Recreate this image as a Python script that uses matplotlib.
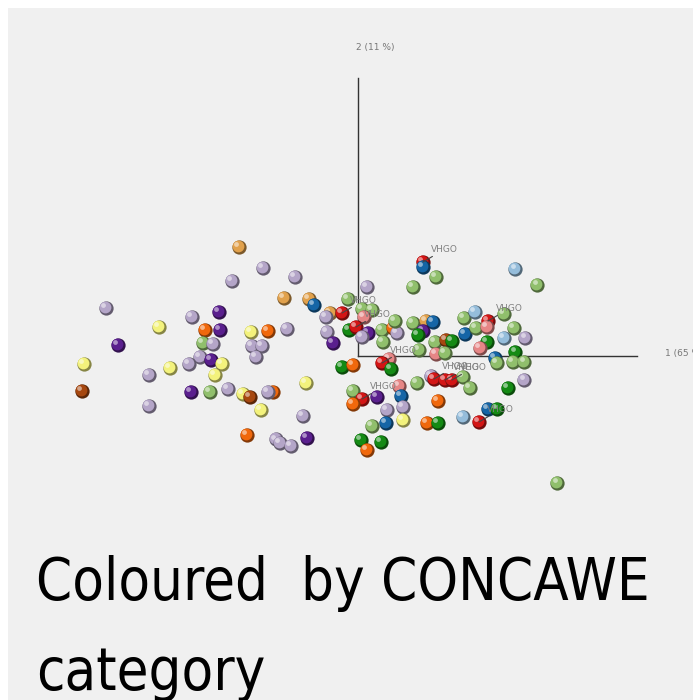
import matplotlib
matplotlib.use('Agg')
import matplotlib.pyplot as plt
from matplotlib import font_manager as fm
from matplotlib.transforms import offset_copy
from matplotlib.colors import to_rgb
import numpy as np

# PCA scores (component 1 = 65 %, component 2 = 11 %)
pc1 = [-11.9, -9.5, -12.6, -6.3, -7.4, -4.9, -4.4, -2.8, -25.2, -13.9,
       -16.6, -19.9, -15.3, -13.8, -10.7, -9.0, -7.1, -3.2, -3.1, -2.5,
       -24.0, -15.5, -14.5, -10.6, -9.6, -10.2, -15.8, -14.7, -13.6, -16.9,
       -27.4, -18.8, -14.3, -20.9, -5.2, -27.6, -16.7, -14.8, -13.0, -11.5,
       -10.8, -8.5, -9.0, -9.7, -20.9, -5.5, -11.1, -8.2, -7.8, -6.7,
       -5.1, -1.6, -1.0, 0.9, 0.4, 1.4, 0.6, -0.9, -0.2, 1.0,
       0.4, 2.4, 3.5, 3.9, 3.7, 2.5, 5.5, 5.5, 6.5, 6.5,
       7.8, 15.7, 17.9, 6.8, 7.5, 6.5, 6.0, 6.1, 7.7, 8.8,
       9.4, 7.8, 8.7, 10.6, 11.7, 10.7, 11.8, 13.0, 12.9, 14.6,
       15.6, 14.6, 16.7, 12.9, 12.2, 15.7, 13.7, 13.9, 15.5, 16.6,
       -1.6, -0.5, 3.1, 2.4, 3.3, 7.3, 7.6, 8.7, 9.4, 10.5,
       11.2, 5.9, 15.0, 16.6, -0.5, 0.4, -0.5, 1.9, 4.1, 4.3,
       2.9, 4.5, 4.5, 2.8, 1.4, 6.9, 8.0, 8.0, 10.5, 13.0,
       13.9, 12.1, 0.3, 2.3, 0.9, 19.9]
pc2 = [10.9, 8.8, 7.5, 7.9, 5.8, 5.7, 5.1, 4.3, 4.8, 4.4,
       3.9, 2.9, 2.6, 2.6, 2.4, 2.5, 2.7, 3.9, 2.4, 1.3,
       1.1, 1.3, 1.2, 1.0, 1.0, -0.1, -0.1, -0.4, -0.8, -0.8,
       -0.8, -1.2, -1.9, -1.9, -2.7, -3.5, -3.6, -3.6, -3.3, -3.8,
       -4.1, -3.6, -3.6, -5.4, -5.0, -6.0, -7.9, -8.3, -8.7, -9.0,
       -8.2, 4.3, 5.7, 6.9, 4.7, 4.6, 3.9, 2.6, 2.9, 2.3,
       1.9, 2.6, 2.8, 2.3, 3.5, 1.4, 3.3, 6.9, 9.4, 8.9,
       7.9, 8.7, 7.1, 3.5, 3.4, 2.5, 2.1, 0.6, 1.4, 1.6,
       1.5, 0.2, 0.3, 3.8, 4.4, 2.2, 2.8, 3.5, 2.9, 4.2,
       2.8, 1.8, 1.8, 1.4, 0.8, 0.4, -0.2, -0.7, -0.6, -0.6,
       -1.1, -0.9, -0.3, -0.7, -1.3, -2.0, -2.3, -2.4, -2.4, -2.1,
       -3.2, -2.7, -3.2, -2.4, -3.5, -4.3, -4.8, -4.1, -3.0, -4.0,
       -5.4, -5.1, -6.4, -6.7, -7.0, -6.7, -6.7, -4.5, -6.1, -5.3,
       -5.3, -6.6, -8.4, -8.6, -9.4, -12.7]
category = ['T', 'L', 'L', 'L', 'T', 'T', 'U', 'T', 'L', 'P',
            'L', 'Y', 'O', 'P', 'Y', 'O', 'L', 'L', 'L', 'P',
            'P', 'G', 'L', 'L', 'L', 'L', 'L', 'P', 'Y', 'L',
            'Y', 'Y', 'Y', 'L', 'Y', 'B', 'P', 'G', 'L', 'Y',
            'B', 'O', 'L', 'Y', 'L', 'L', 'O', 'L', 'L', 'L',
            'P', 'R', 'G', 'L', 'G', 'G', 'K', 'D', 'R', 'P',
            'L', 'G', 'O', 'L', 'G', 'G', 'G', 'G', 'R', 'U',
            'G', 'S', 'G', 'T', 'U', 'P', 'D', 'G', 'G', 'B',
            'D', 'K', 'G', 'G', 'S', 'U', 'G', 'R', 'K', 'G',
            'G', 'S', 'L', 'D', 'K', 'D', 'U', 'G', 'G', 'G',
            'D', 'O', 'K', 'R', 'D', 'L', 'R', 'R', 'R', 'G',
            'G', 'G', 'D', 'L', 'G', 'R', 'O', 'P', 'K', 'U',
            'L', 'L', 'Y', 'U', 'G', 'O', 'D', 'O', 'S', 'U',
            'D', 'R', 'D', 'D', 'O', 'G']
# samples carrying a name tag
tagged = [51, 58, 68, 87, 103, 106, 107, 108, 115, 131]
tag_text = 'VHGO'
title_lines = ['Coloured  by CONCAWE', 'category']

palette = {'L': '#b4a5c8', 'P': '#5a1f8e', 'Y': '#f3f27c', 'O': '#f0680c',
           'T': '#e1a14c', 'B': '#a6470f', 'G': '#90bf6c', 'D': '#148a14',
           'R': '#d31515', 'K': '#e68686', 'U': '#1565a6', 'S': '#95bddb'}


def wnum(w):
    if isinstance(w, (int, float)):
        return w
    return {'light': 300, 'normal': 400, 'regular': 400, 'book': 400,
            'medium': 500, 'bold': 700}.get(str(w).lower(), 400)


# pick a narrow, regular-weight face for the big caption if one is installed
title_font = dict(family='Lato')
narrow = [f for f in fm.fontManager.ttflist
          if ('Narrow' in f.name or 'Condensed' in f.name or f.stretch in ('condensed', 'semi-condensed'))
          and f.style == 'normal']
for want in (400, 300):
    hit = [f for f in narrow if wnum(f.weight) == want]
    if hit:
        f = hit[0]
        title_font = dict(family=f.name, weight=want, stretch=f.stretch)
        break

fig = plt.figure(figsize=(6.93, 7.0), dpi=100)
fig.patch.set_facecolor('white')
ax = fig.add_axes([8/693, 0, 685/693, 692/700])
ax.set_facecolor('#f0f0f0')
ax.set_xlim(-35, 33.5)
ax.set_ylim(-34.4, 34.8)
for s in ax.spines.values():
    s.set_visible(False)
ax.set_xticks([])
ax.set_yticks([])

# axes of the score plot
ax.plot([0, 27.9], [0, 0], color='#333333', lw=1, zorder=1)
ax.plot([0, 0], [0, 27.8], color='#333333', lw=1, zorder=1)
ax.text(1.7, 30.8, '2 (11 %)', fontsize=6.5, color='#777777', ha='center', va='center')
ax.text(30.7, 0.2, '1 (65 %)', fontsize=6.5, color='#777777', ha='left', va='center')

tr_mid = offset_copy(ax.transData, fig=fig, x=-0.6, y=0.6, units='points')
tr_hi = offset_copy(ax.transData, fig=fig, x=-1.8, y=1.8, units='points')

# spheres: dark rim, body, highlight
for i, (x, y, c) in enumerate(zip(pc1, pc2, category)):
    rgb = np.array(to_rgb(palette[c]))
    dark = rgb * 0.55
    light = rgb + (1 - rgb) * 0.6
    z = 3 + i * 3
    ax.scatter([x], [y], s=105, color=dark, lw=0, zorder=z)
    ax.scatter([x], [y], s=72, color=rgb, lw=0, zorder=z + 1, transform=tr_mid)
    ax.scatter([x], [y], s=12, color=light, lw=0, alpha=0.85, zorder=z + 2, transform=tr_hi)

for i in tagged:
    ax.annotate(tag_text, (pc1[i], pc2[i]), xytext=(6, 6), textcoords='offset points',
                fontsize=6.5, color='#808080', ha='left', va='bottom',
                arrowprops=dict(arrowstyle='-', color='#444444', lw=0.8,
                                shrinkA=0, shrinkB=0),
                zorder=3 + len(pc1) * 3)

t1 = fig.text(36/693, 1 - 600/700, title_lines[0], fontsize=40, color='black',
              ha='left', va='baseline', **title_font)
t2 = fig.text(36/693, 1 - 690/700, title_lines[1], fontsize=40, color='black',
              ha='left', va='baseline', **title_font)
# size the caption so the first line spans ~612 px like the original slide
fig.canvas.draw()
w = t1.get_window_extent().width
size = 40 * 612 / w
t1.set_fontsize(size)
t2.set_fontsize(size)

fig.savefig('out.png', dpi=100, facecolor=fig.get_facecolor())
